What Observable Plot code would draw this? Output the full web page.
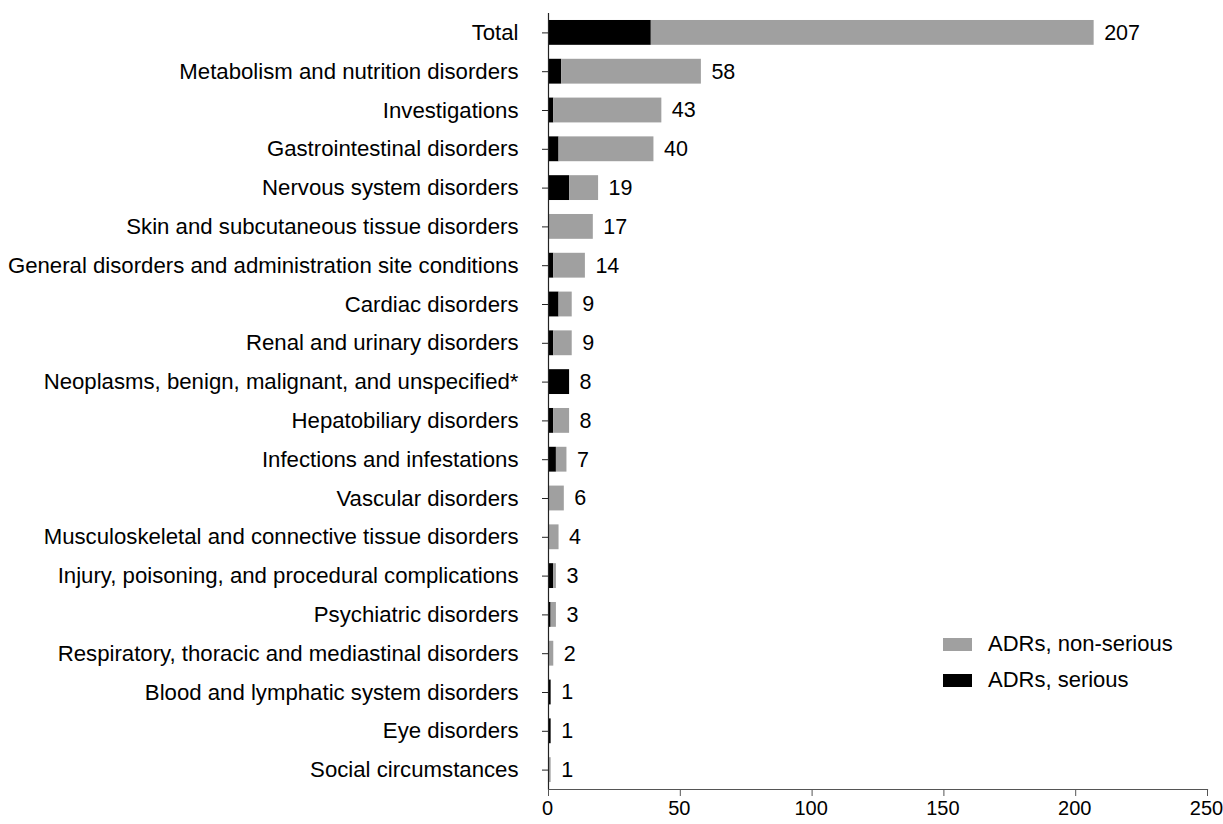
<!DOCTYPE html>
<html>
<head>
<meta charset="utf-8">
<script src="https://cdn.jsdelivr.net/npm/d3@7"></script>
<script src="https://cdn.jsdelivr.net/npm/@observablehq/plot@0.6"></script>
<style>
  html, body { margin: 0; padding: 0; background: #fff; }
  #wrap { position: relative; width: 1223px; height: 824px; font-family: "Liberation Sans", Arial, sans-serif; }
  .legend { position: absolute; left: 943px; top: 626px; font-size: 22px; color: #000; }
  .legend .row { display: flex; align-items: center; height: 36px; }
  .legend .sw { width: 29px; height: 13px; margin-right: 16px; }
</style>
</head>
<body>
<div id="wrap"></div>
<script>
const categories = [
  "Total",
  "Metabolism and nutrition disorders",
  "Investigations",
  "Gastrointestinal disorders",
  "Nervous system disorders",
  "Skin and subcutaneous tissue disorders",
  "General disorders and administration site conditions",
  "Cardiac disorders",
  "Renal and urinary disorders",
  "Neoplasms, benign, malignant, and unspecified*",
  "Hepatobiliary disorders",
  "Infections and infestations",
  "Vascular disorders",
  "Musculoskeletal and connective tissue disorders",
  "Injury, poisoning, and procedural complications",
  "Psychiatric disorders",
  "Respiratory, thoracic and mediastinal disorders",
  "Blood and lymphatic system disorders",
  "Eye disorders",
  "Social circumstances"
];
const totals  = [207, 58, 43, 40, 19, 17, 14, 9, 9, 8, 8, 7, 6, 4, 3, 3, 2, 1, 1, 1];
const serious = [39, 5, 2, 4, 8, 0, 2, 4, 2, 8, 2, 3, 0, 0, 2, 1, 0, 1, 1, 0];
const seriesNames = ["ADRs, serious", "ADRs, non-serious"];
const seriesColors = ["#000000", "#a0a0a0"];
const xTicks = [0, 50, 100, 150, 200, 250];

const stacked = [];
categories.forEach((c, i) => {
  stacked.push({category: c, series: seriesNames[0], value: serious[i]});
  stacked.push({category: c, series: seriesNames[1], value: totals[i] - serious[i]});
});
const labels = categories.map((c, i) => ({category: c, total: totals[i]}));

const FS = 22.2;
const chart = Plot.plot({
  width: 1223,
  height: 824,
  marginLeft: 548,
  marginRight: 16,
  marginTop: 13,
  marginBottom: 35,
  style: {fontFamily: "'Liberation Sans', Arial, sans-serif", fontSize: FS + "px", color: "#000", background: "#fff"},
  x: {domain: [0, 250], label: null},
  y: {domain: categories, label: null, paddingInner: 0.36, paddingOuter: 0.18, round: false},
  color: {domain: seriesNames, range: seriesColors},
  marks: [
    Plot.barX(stacked, Plot.stackX({x: "value", y: "category", fill: "series", order: seriesNames})),
    Plot.text(labels, {x: "total", y: "category", text: d => String(d.total), textAnchor: "start", dx: 10, fill: "#000", fontSize: 21.5}),
    Plot.axisY({tickSize: 6, tickPadding: 24, fontSize: FS, label: null, stroke: "#222"}),
    Plot.axisX({ticks: xTicks, tickSize: 7, tickFormat: () => "", label: null, stroke: "#555"}),
    Plot.axisX({ticks: xTicks, tickSize: 0, tickPadding: 11, fontSize: 20, dx: -1, label: null}),
    Plot.ruleX([0], {stroke: "#222", strokeWidth: 1.2}),
    Plot.frame({anchor: "bottom", stroke: "#555", strokeWidth: 1.2})
  ]
});
const wrap = document.getElementById("wrap");
wrap.appendChild(chart);

const legend = document.createElement("div");
legend.className = "legend";
[1, 0].forEach(i => {
  const row = document.createElement("div");
  row.className = "row";
  const sw = document.createElement("div");
  sw.className = "sw";
  sw.style.background = seriesColors[i];
  const tx = document.createElement("span");
  tx.textContent = seriesNames[i];
  row.appendChild(sw); row.appendChild(tx);
  legend.appendChild(row);
});
wrap.appendChild(legend);
</script>
</body>
</html>
